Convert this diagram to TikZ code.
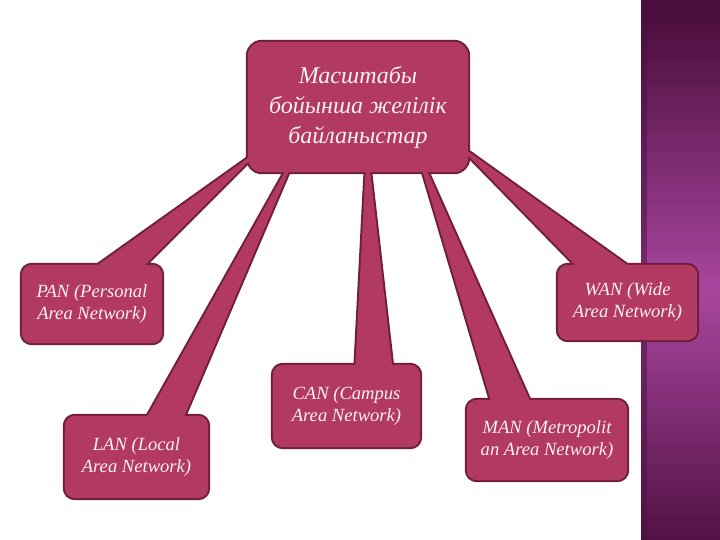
\documentclass[tikz,border=0pt]{standalone}
\usepackage{fontspec}
\setmainfont{Liberation Serif}
\definecolor{boxfill}{RGB}{178,57,96}
\definecolor{boxline}{RGB}{112,30,62}
\definecolor{stripdark}{RGB}{76,14,62}
\definecolor{stripmid}{RGB}{168,70,158}
\definecolor{txt}{RGB}{252,240,245}
\pgfdeclarelayer{bg}
\pgfdeclarelayer{mid}
\pgfsetlayers{bg,mid,main}
\tikzset{
  boxtext/.style={inner sep=0pt, align=center, text=txt, font=\itshape\fontsize{18.6}{22}\selectfont},
  toptext/.style={boxtext, font=\itshape\fontsize{24}{30}\selectfont},
  outline/.style={draw=boxline, line width=4pt, line join=round},
  inside/.style={fill=boxfill}
}
\newcommand\drawallshapes[1]{%
  \path[#1, rounded corners=14pt] (top.south west) rectangle (top.north east);
  \foreach \n in {pan,lan,can,man,wan}{
    \path[#1, rounded corners=10pt] (\n.south west) rectangle (\n.north east);
  }
  \path[#1] (panL) -- (panR) -- (panA) -- cycle;
  \path[#1] (lanL) -- (lanR) -- (lanA) -- cycle;
  \path[#1] (canL) -- (canR) -- (canA) -- cycle;
  \path[#1] (manL) -- (manR) -- (manA) -- cycle;
  \path[#1] (wanL) -- (wanR) -- (wanA) -- cycle;
}
\begin{document}
\begin{tikzpicture}[x=1pt,y=-1pt]
\useasboundingbox (0,0) rectangle (720,540);
% nodes (text only; shapes drawn on layers below)
\node[toptext, minimum width=220pt, minimum height=130pt] (top) at (358,107)
  {Масштабы\\бойынша желілік\\байланыстар};
\node[boxtext, minimum width=140pt, minimum height=78pt] (pan) at (92,304)
  {PAN (Personal\\Area Network)};
\node[boxtext, minimum width=143pt, minimum height=82pt] (lan) at (136.5,457)
  {LAN (Local\\Area Network)};
\node[boxtext, minimum width=147pt, minimum height=82pt] (can) at (346.5,406)
  {CAN (Campus\\Area Network)};
\node[boxtext, minimum width=160pt, minimum height=80pt] (man) at (547,440)
  {MAN (Metropolit\\an Area Network)};
\node[boxtext, minimum width=139pt, minimum height=75pt] (wan) at (627.5,302.5)
  {WAN (Wide\\Area Network)};
% wedge corner points
\coordinate (panL) at (88,272);  \coordinate (panR) at (138,272);  \coordinate (panA) at (262,148);
\coordinate (lanL) at (143,424); \coordinate (lanR) at (181,424);  \coordinate (lanA) at (301,143);
\coordinate (canL) at (355,373); \coordinate (canR) at (393,373);  \coordinate (canA) at (367,143);
\coordinate (manL) at (493,408); \coordinate (manR) at (533,408);  \coordinate (manA) at (413,139);
\coordinate (wanL) at (582,272); \coordinate (wanR) at (637,272);  \coordinate (wanA) at (455,142);
\begin{pgfonlayer}{bg}
  \foreach \i in {0,...,179}{
    \pgfmathsetmacro\p{max(0,100*(1-abs(\i*3+1.5-290)/270))}
    \fill[stripmid!\p!stripdark] (641,\i*3) rectangle (720,\i*3+3.5);
  }
  \fill[stripdark, opacity=0.5] (641,0) rectangle (647,540);
  \drawallshapes{outline}
\end{pgfonlayer}
\begin{pgfonlayer}{mid}
  \drawallshapes{inside}
\end{pgfonlayer}
\end{tikzpicture}
\end{document}
